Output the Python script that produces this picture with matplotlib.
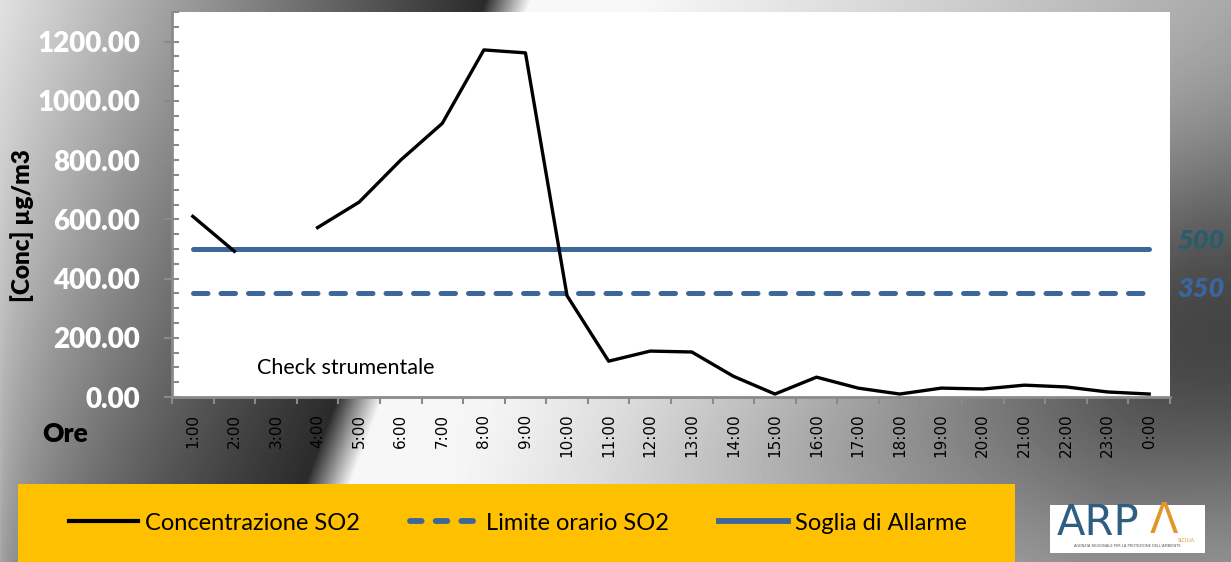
import numpy as np
import matplotlib
matplotlib.use("Agg")
import matplotlib.pyplot as plt
from matplotlib.patches import Rectangle
from matplotlib.lines import Line2D

## data
ore = ["1:00", "2:00", "3:00", "4:00", "5:00", "6:00", "7:00", "8:00", "9:00",
       "10:00", "11:00", "12:00", "13:00", "14:00", "15:00", "16:00", "17:00",
       "18:00", "19:00", "20:00", "21:00", "22:00", "23:00", "0:00"]
conc_so2 = [610, 492, np.nan, 572, 658, 800, 924, 1172, 1162,
            342, 121, 155, 152, 70, 10, 67, 30,
            10, 30, 27, 40, 34, 17, 10]
limite_orario = 350
soglia_allarme = 500

W, H = 1231, 562
fig = plt.figure(figsize=(W / 100, H / 100), dpi=100)

## metallic background
yy, xx = np.mgrid[0:H, 0:W].astype(float)
edge = 485 - 0.373 * yy
u = xx + 0.373 * yy
t = np.clip(xx / edge, 0, 1)
b0 = 0.88 - 0.22 * yy / H
p = 1.0 - 0.45 * yy / H
dark = b0 - (b0 - 0.17) * t ** p
ramp = np.clip((u - 485) / 45, 0, 1)
light = 0.97 - 0.32 * np.clip((u - 640) / 650, 0, 1)
light = np.where(u < 530, 0.17 + 0.80 * ramp, light)
b = np.where(u < 485, dark, light)
b -= 0.38 * np.exp(-(((xx - 1231) / 330) ** 2 + ((yy - 330) / 190) ** 2))
b -= 0.10 * np.exp(-(((xx - 850) / 250) ** 2 + ((yy - 470) / 110) ** 2))
b = np.clip(b, 0, 1)
bg = fig.add_axes([0, 0, 1, 1])
bg.imshow(b, cmap="gray", vmin=0, vmax=1, aspect="auto", interpolation="bilinear")
bg.set_axis_off()

## main plot
ax = fig.add_axes([172 / W, 1 - 397 / H, (1170 - 172) / W, (397 - 12) / H])
ax.set_facecolor("white")
x = np.arange(len(ore))
blu = "#3D6699"
ax.plot([x[0], x[-1]], [soglia_allarme, soglia_allarme], color=blu, lw=3.6,
        solid_capstyle="round", zorder=2)
ax.plot([x[0], x[-1]], [limite_orario, limite_orario], color=blu, lw=3.6,
        dashes=(2.9, 2.6), dash_capstyle="round", zorder=2)
ax.plot(x, conc_so2, color="black", lw=2.4, zorder=3)

ax.set_xlim(-0.5, len(ore) - 0.5)
ax.set_ylim(0, 1300)
for s in ["top", "right"]:
    ax.spines[s].set_visible(False)
for s in ["left", "bottom"]:
    ax.spines[s].set_color("#8a8a8a")
    ax.spines[s].set_linewidth(2)

ax.set_yticks(np.arange(0, 1201, 200))
ax.set_yticks(np.arange(0, 1301, 50), minor=True)
ax.yaxis.remove_overlapping_locs = False
ax.set_yticklabels(["%.2f" % v for v in np.arange(0, 1201, 200)])
ax.tick_params(axis="y", which="major", direction="out", length=6, width=1.5,
               color="#8a8a8a", pad=17, labelsize=20, labelcolor="white")
ax.tick_params(axis="y", which="minor", direction="in", length=5, width=1.5,
               color="#8a8a8a")
for tl in ax.get_yticklabels():
    tl.set_fontfamily("Lato")
    tl.set_fontweight("heavy")

ax.set_xticks(x)
ax.set_xticklabels(ore, rotation=90)
ax.set_xticks(np.arange(-0.5, len(ore)), minor=True)
ax.tick_params(axis="x", which="major", length=0, pad=12, labelsize=11,
               labelcolor="black")
ax.tick_params(axis="x", which="minor", direction="out", length=5, width=1.5,
               color="#8a8a8a")

ax.text(3.68, 98, "Check strumentale", fontsize=15.5, family="Lato",
        ha="center", va="center", color="black")

fig.text(1177 / W, 1 - 241 / H, "500", color="#2A5C6E", fontsize=19.5,
         family="Lato", weight="heavy", style="italic", va="center")
fig.text(1177 / W, 1 - 289 / H, "350", color="#3A66A0", fontsize=19.5,
         family="Lato", weight="heavy", style="italic", va="center")
fig.text(65 / W, 1 - 434 / H, "Ore", fontsize=19, family="Lato",
         weight="heavy", ha="center", va="center")
fig.text(22 / W, 1 - 226 / H, "[Conc] µg/m3", fontsize=17.5, family="Lato",
         weight="heavy", rotation=90, ha="center", va="center")

## legend box
fig.patches.append(Rectangle((18 / W, 0), (1015 - 18) / W, (562 - 484) / H,
                             transform=fig.transFigure, facecolor="#FFC000",
                             edgecolor="none", zorder=1))
handles = [Line2D([], [], color="black", lw=3.0),
           Line2D([], [], color=blu, lw=4.2, dashes=(2.0, 2.4), dash_capstyle="round"),
           Line2D([], [], color=blu, lw=4.2)]
labels = ["Concentrazione SO2", "Limite orario SO2", "Soglia di Allarme"]
leg = fig.legend(handles, labels, loc="center", ncol=3, frameon=False,
                 bbox_to_anchor=(518 / W, 1 - 523 / H), handlelength=2.9,
                 handletextpad=0.3, columnspacing=2.15,
                 prop={"family": "Lato", "size": 17})

## logo
fig.patches.append(Rectangle((1050 / W, 1 - 553 / H), 155 / W, 48 / H,
                             transform=fig.transFigure, facecolor="white",
                             edgecolor="none", zorder=1))
fig.text(1057 / W, 1 - 523 / H, "ARP", color="#2E5E80", fontsize=30,
         family="DejaVu Sans", va="center", ha="left")
fig.text(1150 / W, 1 - 521 / H, "Λ", color="#E0962A", fontsize=30,
         family="DejaVu Sans", va="center", ha="left")
fig.text(1186 / W, 1 - 540 / H, "SICILIA", color="#E0962A", fontsize=3.5,
         va="center", ha="center")
fig.text(1127 / W, 1 - 546 / H, "AGENZIA REGIONALE PER LA PROTEZIONE DELL'AMBIENTE",
         color="#555555", fontsize=2.6, va="center", ha="center")

fig.savefig("out.png", dpi=100)
